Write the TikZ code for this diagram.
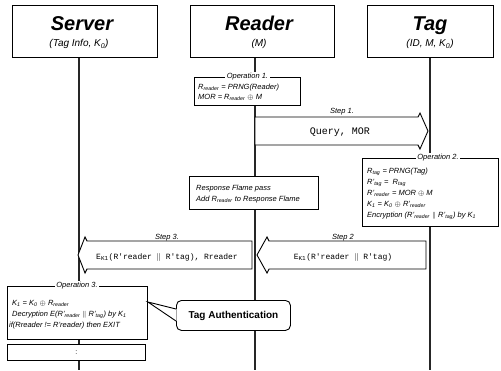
\documentclass[tikz,border=0pt]{standalone}
\usepackage{fontspec}
\setmainfont{Liberation Sans}
\setmonofont{Liberation Mono}
\newcommand\xsub[1]{\textsubscript{#1}}
\begin{document}
\begin{tikzpicture}[x=1pt,y=-1pt,
  hbox/.style={draw=black, line width=1pt, fill=white, anchor=north west, inner sep=0pt},
  life/.style={line width=2.2pt, black!85},
  ttl/.style={font=\fontsize{20}{20}\selectfont\bfseries\itshape, inner sep=0pt, anchor=base},
  subt/.style={font=\fontsize{10}{10}\selectfont\itshape, inner sep=0pt, anchor=base},
  opbox/.style={draw=black, line width=0.9pt, fill=white, anchor=north west, inner sep=0pt},
  optitle/.style={fill=white, font=\fontsize{7.5}{7.5}\selectfont\itshape, inner sep=1.5pt},
  optext/.style={font=\fontsize{7.5}{7.5}\selectfont\itshape, anchor=base west, inner sep=0pt},
  blockarrow/.style={draw=black, line width=0.9pt, fill=white, line join=miter},
  msgtext/.style={font=\fontsize{8}{8}\selectfont\ttfamily, inner sep=0pt, anchor=base},
  steplbl/.style={font=\fontsize{7.5}{7.5}\selectfont\itshape, inner sep=0pt, anchor=base},
  authbox/.style={draw=black, line width=0.9pt, fill=white, rounded corners=5pt, inner sep=0pt, anchor=north west},
]
\useasboundingbox (0,0) rectangle (501,370);

% lifeline ends
\coordinate (sEnd) at (79,370);
\coordinate (rEnd) at (255,370);
\coordinate (tEnd) at (430,370);

% header boxes
\node[hbox, minimum width=145pt, minimum height=52pt] (server) at (12,5) {};
\node[hbox, minimum width=144pt, minimum height=52pt] (reader) at (190,5) {};
\node[hbox, minimum width=126pt, minimum height=52pt] (tag) at (367,5) {};

% lifelines
\draw[life] (sEnd |- server.south) -- (sEnd);
\draw[life] (rEnd |- reader.south) -- (rEnd);
\draw[life] (tEnd |- tag.south) -- (tEnd);

\node[ttl] (serverT) at (82,30) {Server};
\node[subt] (serverS) at (79,46.5) {(Tag Info, K\xsub{0})};
\node[ttl] (readerT) at (259,30) {Reader};
\node[subt] (readerS) at (259,46.5) {(M)};
\node[ttl] (tagT) at (430,30) {Tag};
\node[subt] (tagS) at (430,46.5) {(ID, M, K\xsub{0})};

% Operation 1
\node[opbox, minimum width=106pt, minimum height=28pt] (op1) at (194,77) {};
\node[optitle] (op1T) at (op1.north) {Operation 1.};
\node[optext] (op1a) at (198,89.5) {R\xsub{reader} = PRNG(Reader)};
\node[optext] (op1b) at (198,99.5) {MOR = R\xsub{reader} $\oplus$ M};

% Step 1
\draw[blockarrow] (255,117) -- (418,117) -- (420,113) -- (428,131) -- (420,149) -- (418,145) -- (255,145) -- cycle;
\node[steplbl] (st1) at (342,113.5) {Step 1.};
\node[msgtext, font=\fontsize{10}{10}\selectfont\ttfamily] (m1) at (340,134.5) {Query, MOR};

% Operation 2
\node[opbox, minimum width=136pt, minimum height=68pt] (op2) at (362,158) {};
\node[optitle] (op2T) at (438,158) {Operation 2.};
\node[optext] (op2a) at (367,173.5) {R\xsub{tag} = PRNG(Tag)};
\node[optext] (op2b) at (367,184.5) {R'\xsub{tag} = \ R\xsub{tag}};
\node[optext] (op2c) at (367,195.5) {R'\xsub{reader} = MOR $\oplus$ M};
\node[optext] (op2d) at (367,206.5) {K\xsub{1} = K\xsub{0} $\oplus$ R'\xsub{reader}};
\node[optext] (op2e) at (367,217.5) {Encryption (R'\xsub{reader} $\|$ R'\xsub{tag}) by K\xsub{1}};

% Response frame
\node[opbox, minimum width=129pt, minimum height=33pt] (resp) at (189,176) {};
\node[optext] (respa) at (196,190.5) {Response Flame pass};
\node[optext] (respb) at (196,201) {Add R\xsub{reader} to Response Flame};

% Step 2
\draw[blockarrow] (426,241) -- (269,241) -- (267,237) -- (257,255) -- (267,273) -- (269,269) -- (426,269) -- cycle;
\node[steplbl] (st2) at (343,239) {Step 2};
\node[msgtext] (m2) at (343,259) {E\xsub{K1}(R'reader $\|$ R'tag)};

% Step 3
\draw[blockarrow] (252,241) -- (87,241) -- (85,237) -- (78,255) -- (85,273) -- (87,269) -- (252,269) -- cycle;
\node[steplbl] (st3) at (167,239) {Step 3.};
\node[msgtext] (m3) at (167,259) {E\xsub{K1}(R'reader $\|$ R'tag), Rreader};

% Operation 3
\node[opbox, minimum width=140pt, minimum height=53pt] (op3) at (7,286) {};
\node[optitle] (op3T) at (77,286) {Operation 3.};
\node[optext] (op3a) at (12,305.5) {K\xsub{1} = K\xsub{0} $\oplus$ R\xsub{reader}};
\node[optext] (op3b) at (12,316) {Decryption E(R'\xsub{reader} $\|$ R'\xsub{tag}) by K\xsub{1}};
\node[optext] (op3c) at (9,327) {if(Rreader != R'reader) then EXIT};

% bottom box
\node[opbox, minimum width=138pt, minimum height=16pt] (more) at (7,344) {};
\node[font=\fontsize{7}{7}\selectfont, inner sep=0pt] (moreT) at (more.center) {:};

% callout
\node[authbox, minimum width=114pt, minimum height=30pt] (auth) at (176,300) {};
\node[font=\fontsize{10}{10}\selectfont\bfseries, inner sep=0pt] (authT) at (auth.center) {Tag Authentication};
\coordinate (tip) at (op3.east |- 0,302);
\coordinate (pb1) at ([xshift=0.6pt]auth.west |- 0,309);
\coordinate (pb2) at ([xshift=0.6pt]auth.west |- 0,321);
\fill[white] (pb1) -- (tip) -- (pb2) -- cycle;
\draw[line width=0.9pt, line join=miter] ([xshift=-0.6pt]pb1) -- (tip) -- ([xshift=-0.6pt]pb2);
\end{tikzpicture}
\end{document}
